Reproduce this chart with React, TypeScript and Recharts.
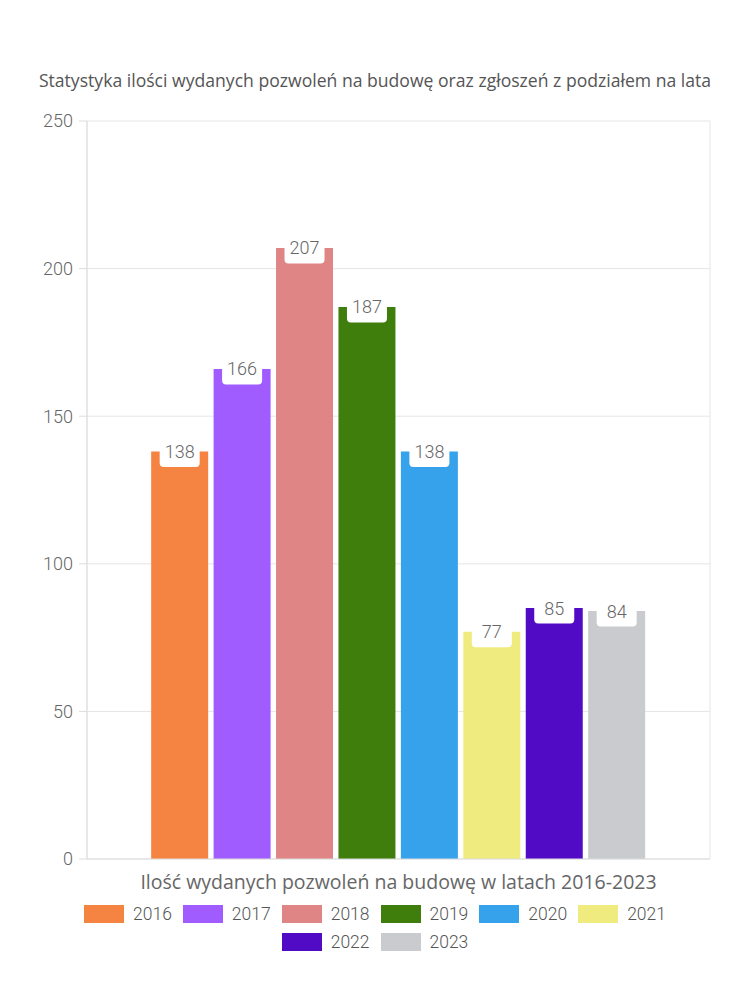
import React from "react";
import { BarChart, Bar, XAxis, YAxis, CartesianGrid, Legend, LabelList } from "recharts";

const years = ["2016", "2017", "2018", "2019", "2020", "2021", "2022", "2023"];
const permits = [138, 166, 207, 187, 138, 77, 85, 84];
const colors = ["#F58442", "#A05CFF", "#E08585", "#3F7D0D", "#36A2EB", "#F0EB7E", "#510BC4", "#C9CBCF"];
const yTicks = [0, 50, 100, 150, 200, 250];
const title = "Statystyka ilości wydanych pozwoleń na budowę oraz zgłoszeń z podziałem na lata";
const axisLabel = "Ilość wydanych pozwoleń na budowę w latach 2016-2023";

const row: Record<string, any> = { name: axisLabel };
years.forEach((y, i) => {
  row["y" + y] = permits[i];
});
const data = [row];

const valueLabel = (props: any) => {
  const { x, y, width, value } = props;
  const cx = x + width / 2;
  return (
    <g>
      <rect x={cx - 20} y={y - 8} width={40} height={23.5} rx={4} fill="#fff" />
      <text
        x={cx}
        y={y}
        textAnchor="middle"
        dominantBaseline="central"
        fontSize={18}
        fontWeight={300}
        fill="#666"
        fontFamily="Roboto"
      >
        {value}
      </text>
    </g>
  );
};

const legendContent = () => (
  <div style={{ height: 100, boxSizing: "border-box" }}>
    <div
      style={{
        width: 600,
        margin: "-1px auto 0",
        display: "flex",
        flexWrap: "wrap",
        justifyContent: "center",
      }}
    >
      {years.map((y, i) => (
        <div key={y} style={{ display: "flex", alignItems: "center", margin: "0 5.5px", height: 28 }}>
          <div style={{ width: 40, height: 18, background: colors[i] }} />
          <span style={{ marginLeft: 9, fontFamily: "Roboto", fontWeight: 300, fontSize: 17.5, color: "#555" }}>
            {y}
          </span>
        </div>
      ))}
    </div>
  </div>
);

export default function App() {
  return (
    <div style={{ position: "absolute", left: 0, top: 0, width: 750, height: 1000, background: "#fff" }}>
      <div
        style={{
          position: "absolute",
          top: 68,
          left: 0,
          width: 750,
          textAlign: "center",
          fontFamily: "'Open Sans'",
          fontSize: 17.6,
          color: "#555",
        }}
      >
        {title}
      </div>
      <BarChart
        width={750}
        height={1000}
        data={data}
        margin={{ top: 121, right: 40, left: 0, bottom: 0 }}
        barCategoryGap="10.3%"
        barGap={5.43}
      >
        <CartesianGrid
          stroke="#e5e5e5"
          verticalCoordinatesGenerator={({ offset }: any) => [offset.left, offset.left + offset.width]}
        />
        <XAxis
          dataKey="name"
          tick={false}
          tickLine={false}
          axisLine={{ stroke: "#ddd" }}
          height={42}
          label={{
            value: axisLabel,
            position: "insideBottom",
            offset: 12,
            fill: "#666",
            fontSize: 19.5,
            fontFamily: "'Open Sans'",
          }}
        />
        <YAxis
          width={87}
          domain={[0, 250]}
          ticks={yTicks}
          tickSize={8}
          tickMargin={6}
          tickLine={{ stroke: "#ddd" }}
          axisLine={{ stroke: "#ddd" }}
          tick={{ fill: "#666", fontSize: 18, fontWeight: 300, fontFamily: "Roboto" }}
        />
        <Legend verticalAlign="bottom" content={legendContent} wrapperStyle={{ left: 0, width: 750 }} />
        {years.map((y, i) => (
          <Bar key={y} dataKey={"y" + y} name={y} fill={colors[i]} isAnimationActive={false}>
            <LabelList dataKey={"y" + y} content={valueLabel} />
          </Bar>
        ))}
      </BarChart>
    </div>
  );
}
